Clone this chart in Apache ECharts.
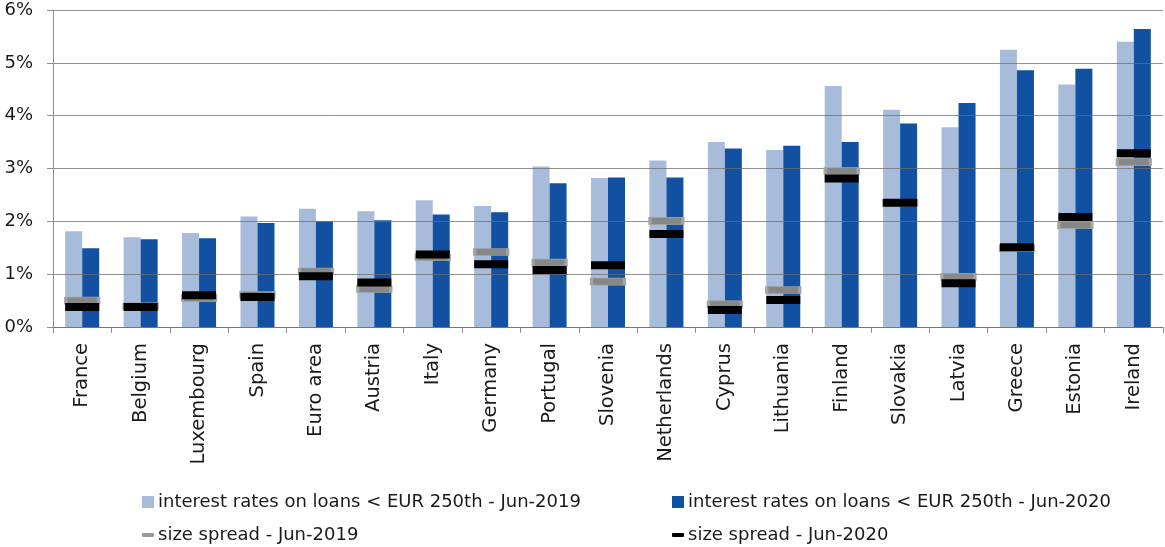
<!DOCTYPE html>
<html>
<head>
<meta charset="utf-8">
<script src="https://cdn.jsdelivr.net/npm/echarts@6/dist/echarts.min.js"></script>
<style>
  html, body { margin: 0; padding: 0; background: #fff; }
  #chart { width: 1165px; height: 547px; }
</style>
</head>
<body>
<div id="chart"></div>
<script>
  // categories (x axis)
  const countries = ['France', 'Belgium', 'Luxembourg', 'Spain', 'Euro area', 'Austria', 'Italy',
    'Germany', 'Portugal', 'Slovenia', 'Netherlands', 'Cyprus', 'Lithuania', 'Finland',
    'Slovakia', 'Latvia', 'Greece', 'Estonia', 'Ireland'];

  // interest rates on small loans, in %
  const rates2019 = [1.81, 1.70, 1.78, 2.09, 2.24, 2.19, 2.40, 2.29, 3.04, 2.82, 3.15, 3.50, 3.35, 4.56, 4.11, 3.78, 5.25, 4.59, 5.40];
  const rates2020 = [1.49, 1.66, 1.68, 1.97, 2.00, 2.02, 2.13, 2.17, 2.72, 2.83, 2.83, 3.38, 3.43, 3.50, 3.85, 4.24, 4.86, 4.89, 5.64];

  // size spread, in %
  const spread2019 = [0.50, 0.39, 0.55, 0.61, 1.05, 0.72, 1.32, 1.42, 1.22, 0.86, 2.01, 0.43, 0.70, 2.95, 2.35, 0.95, 1.49, 1.93, 3.12];
  const spread2020 = [0.38, 0.38, 0.60, 0.57, 0.96, 0.84, 1.37, 1.19, 1.08, 1.17, 1.76, 0.32, 0.51, 2.81, 2.35, 0.83, 1.51, 2.08, 3.29];

  // y axis
  const yMin = 0, yMax = 6, yStep = 1;

  const names = [
    'interest rates on loans < EUR 250th - Jun-2019',
    'interest rates on loans < EUR 250th - Jun-2020',
    'size spread - Jun-2019',
    'size spread - Jun-2020'
  ];

  const font = "'DejaVu Sans'";
  const grey = '#8f8f8f';

  // one legend per item, so they sit in two columns
  function legendAt(name, left, top, icon, w, h, color) {
    return {
      data: [{ name: name, icon: icon, itemStyle: { color: color, borderWidth: 0 } }],
      left: left, top: top,
      itemWidth: w, itemHeight: h, itemGap: 0,
      padding: 0,
      selectedMode: false,
      textStyle: { fontFamily: font, fontSize: 18, color: '#1a1a1a', padding: [0, 0, 0, -1] }
    };
  }

  const chart = echarts.init(document.getElementById('chart'));
  chart.setOption({
    animation: false,
    textStyle: { fontFamily: font },
    grid: { left: 53, right: 2, top: 10, bottom: 220, containLabel: false, outerBoundsMode: 'none' },
    legend: [
      legendAt(names[0], 142, 493, 'rect', 12, 12, '#a7bcdb'),
      legendAt(names[1], 672, 493, 'rect', 12, 12, '#1251a1'),
      legendAt(names[2], 142, 526, 'roundRect', 12, 4, '#999999'),
      legendAt(names[3], 672, 526, 'roundRect', 12, 4, '#000000')
    ],
    xAxis: {
      type: 'category',
      data: countries,
      axisLine: { lineStyle: { color: grey, width: 1 } },
      axisTick: { show: true, length: 6, lineStyle: { color: grey } },
      axisLabel: { rotate: 90, margin: 16, fontSize: 19.5, color: '#1a1a1a', fontFamily: font }
    },
    yAxis: {
      type: 'value',
      min: yMin, max: yMax, interval: yStep,
      z: 2,
      axisLine: { show: true, lineStyle: { color: grey, width: 1 } },
      axisTick: { show: true, length: 6, lineStyle: { color: grey } },
      axisLabel: { formatter: '{value}%', margin: 20, fontSize: 18, color: '#1a1a1a', fontFamily: font },
      splitLine: { lineStyle: { color: 'rgba(110,110,110,0.75)', width: 1 } }
    },
    series: [
      {
        name: names[0], type: 'bar', data: rates2019, z: 1,
        barWidth: 17, barGap: '0%',
        itemStyle: { color: '#a7bcdb' }
      },
      {
        name: names[1], type: 'bar', data: rates2020, z: 1,
        barWidth: 17, barGap: '0%',
        itemStyle: { color: '#1251a1' }
      },
      {
        name: names[2], type: 'scatter', data: spread2019, z: 3,
        symbol: 'rect', symbolSize: [33, 7],
        itemStyle: { color: '#878787', borderColor: '#a3a3a3', borderWidth: 1.5, opacity: 1 }
      },
      {
        name: names[3], type: 'scatter', data: spread2020, z: 4,
        symbol: 'rect', symbolSize: [34, 8],
        itemStyle: { color: '#000000', opacity: 1 }
      }
    ]
  });
</script>
</body>
</html>
